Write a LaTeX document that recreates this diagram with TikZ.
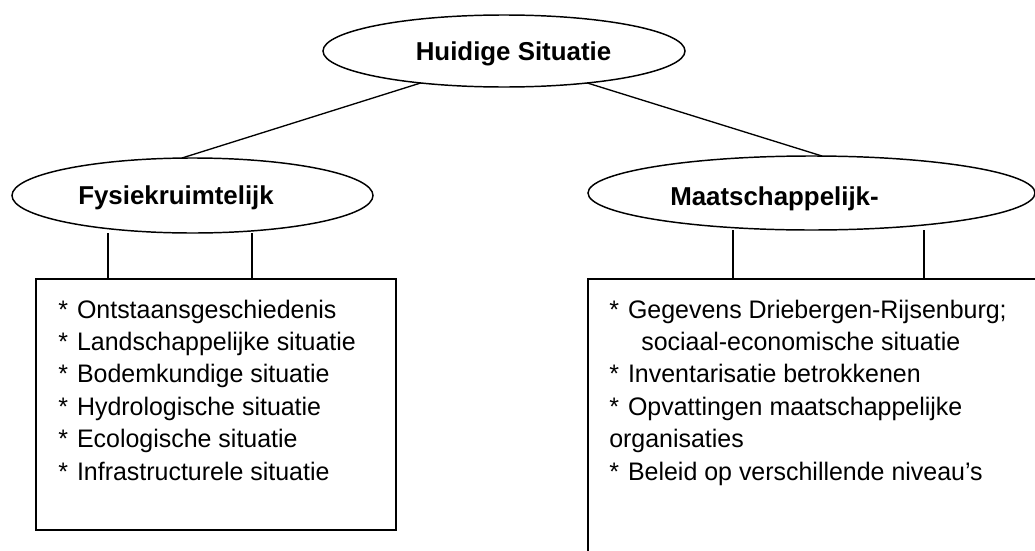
\documentclass[tikz,border=0pt]{standalone}
\usepackage{fontspec}
\setmainfont{Liberation Sans}
\newfontfamily\narrowf{Liberation Sans}[FakeStretch=0.985]
\usetikzlibrary{shapes.geometric}
\newcommand{\itm}{{*}\hspace*{6.8pt}}
\begin{document}
\begin{tikzpicture}[x=0.75pt,y=-0.75pt,
  oval/.style={draw, ellipse, inner sep=0pt, outer sep=0pt, line width=1.1pt},
  box/.style={draw, rectangle, inner sep=0pt, outer sep=0pt, line width=1pt},
  title/.style={font=\fontsize{19.4}{23}\selectfont\bfseries, inner sep=0pt},
  list/.style={font=\narrowf\fontsize{19}{24.3}\selectfont, inner sep=0pt, anchor=base west},
  link/.style={line width=1pt}]
\useasboundingbox (0,0) rectangle (1035,550);
\fill[white] (0,0) rectangle (1035,550);
\clip (0,0) rectangle (1035,550);

% ellipses
\node[oval, minimum width=271.5pt, minimum height=54pt] (top) at (504,51) {};
\node[oval, minimum width=270.75pt, minimum height=56.25pt] (left) at (192.5,195.5) {};
\node[oval, minimum width=335.25pt, minimum height=55.5pt] (right) at (811.5,193) {};

% titles
\node[title, anchor=base] (tTop) at (513.5,60) {Huidige Situatie};
\node[title, anchor=base west] (tLeft) at (78,204) {Fysiekruimtelijk};
\node[title, anchor=base west] (tRight) at (670,205) {Maatschappelijk-};

% boxes
\node[box, minimum width=270pt, minimum height=188.25pt] (lbox) at (216,404.5) {};
\node[box, minimum width=376.5pt, minimum height=240.75pt] (rbox) at (839,439.5) {};

% connectors top -> branches
\draw[link] (top.201) -- (left.106);
\draw[link] (top.339) -- (right.74);

% connectors branches -> boxes
\coordinate (l1) at (108,279);
\coordinate (l2) at (252,279);
\coordinate (r1) at (733,279);
\coordinate (r2) at (924,279);
\draw[link] (l1) -- (l1 |- left.south);
\draw[link] (l2) -- (l2 |- left.south);
\draw[link] (r1) -- (r1 |- right.south);
\draw[link] (r2) -- (r2 |- right.south);

% lists
\node[list] (lList) at (58,318) {\begin{tabular}[t]{@{}l@{}}
\itm Ontstaansgeschiedenis\\
\itm Landschappelijke situatie\\
\itm Bodemkundige situatie\\
\itm Hydrologische situatie\\
\itm Ecologische situatie\\
\itm Infrastructurele situatie
\end{tabular}};
\node[list] (rList) at (609,318) {\begin{tabular}[t]{@{}l@{}}
\itm Gegevens Driebergen-Rijsenburg;\\
\hspace*{24pt}sociaal-economische situatie\\
\itm Inventarisatie betrokkenen\\
\itm Opvattingen maatschappelijke\\
organisaties\\
\itm Beleid op verschillende niveau’s
\end{tabular}};
\end{tikzpicture}
\end{document}
